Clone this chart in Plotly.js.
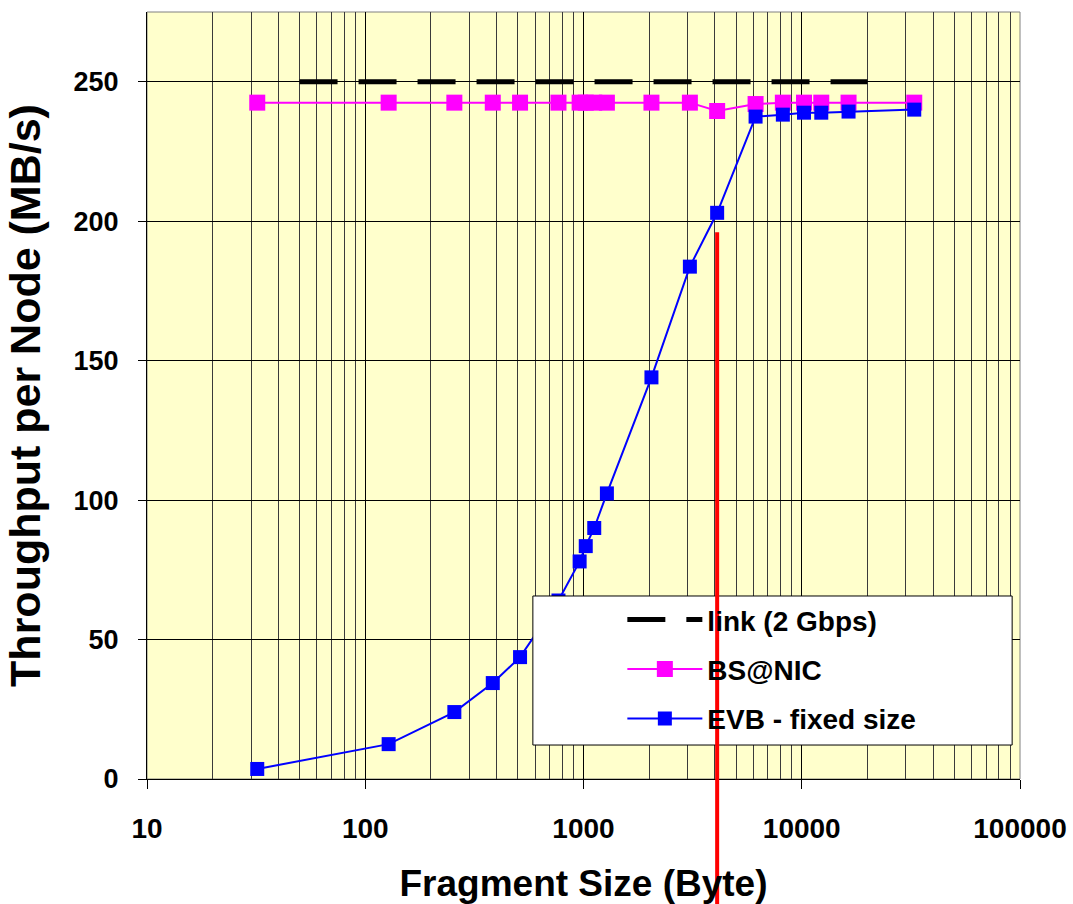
<!DOCTYPE html>
<html>
<head>
<meta charset="utf-8">
<script src="https://cdn.plot.ly/plotly-3.0.1.min.js"></script>
<style>html,body{margin:0;padding:0;background:#fff;}#chart{width:1073px;height:904px;}</style>
</head>
<body>
<div id="chart"></div>
<script>
// ---- data ----
const seriesNames = ["link (2 Gbps)", "BS@NIC", "EVB - fixed size"];
const linkX = [50, 20000];
const linkY = [250, 250];
const bsX = [32, 128, 256, 384, 512, 768, 960, 1024, 1120, 1280, 2048, 3072, 4096, 6144, 8192, 10240, 12288, 16384, 32768];
const bsY = [242.5, 242.5, 242.5, 242.5, 242.5, 242.5, 242.5, 242.5, 242.5, 242.5, 242.5, 242.5, 239.5, 242, 242.5, 242.5, 242.5, 242.5, 242.5];
const evbX = [32, 128, 256, 384, 512, 768, 960, 1024, 1120, 1280, 2048, 3072, 4096, 6144, 8192, 10240, 12288, 16384, 32768];
const evbY = [3.6, 12.5, 24, 34.4, 43.7, 64, 78, 83.5, 90, 102.4, 144, 183.7, 203, 237.5, 238.2, 238.9, 238.9, 239.3, 240];
const markerX = 4096;       // red vertical marker
const markerTop = 196;      // value where the red line starts
const xTickVals = [10, 100, 1000, 10000, 100000];
const xTickText = ["10", "100", "1000", "10000", "100000"];
const yTickVals = [0, 50, 100, 150, 200, 250];
const yRange = [0, 275];

const FONT = "Liberation Sans, Arial, sans-serif";

const traces = [
  {x: linkX, y: linkY, name: seriesNames[0], mode: "lines", legendgroup: "a",
   line: {color: "#000000", width: 5, dash: "38px,21px"}},
  {x: bsX, y: bsY, name: seriesNames[1], mode: "lines+markers", legendgroup: "b",
   line: {color: "#FF00FF", width: 2}, marker: {symbol: "square", size: 16, color: "#FF00FF"}},
  {x: evbX, y: evbY, name: seriesNames[2], mode: "lines+markers", legendgroup: "c",
   line: {color: "#0000FF", width: 2}, marker: {symbol: "square", size: 14, color: "#0000FF"}}
];

const layout = {
  width: 1073, height: 904,
  margin: {l: 147, r: 53, t: 12, b: 125},
  paper_bgcolor: "#ffffff",
  plot_bgcolor: "#FFFFCC",
  font: {family: FONT, color: "#000"},
  showlegend: true,
  legend: {
    x: 0.5445, y: 0.240, xanchor: "left", yanchor: "top",
    bgcolor: "rgba(0,0,0,0)", borderwidth: 0,
    traceorder: "grouped", tracegroupgap: 10, itemwidth: 75,
    font: {family: FONT, size: 28, weight: "bold", color: "#000"}
  },
  xaxis: {
    type: "log", range: [1, 5],
    tickvals: xTickVals, ticktext: xTickText,
    ticks: "outside", ticklen: 9, tickcolor: "#000", tickwidth: 1,
    ticklabelstandoff: 15,
    showgrid: true, gridcolor: "#000", gridwidth: 1,
    minor: {dtick: "D1", showgrid: true, gridcolor: "#3a3a3a", gridwidth: 1, ticks: ""},
    showline: true, linecolor: "#000", linewidth: 1,
    zeroline: false,
    tickfont: {family: FONT, size: 28, weight: "bold", color: "#000"},
    title: {text: "Fragment Size (Byte)", standoff: 29,
            font: {family: FONT, size: 37, weight: "bold", color: "#000"}}
  },
  yaxis: {
    range: yRange, tickvals: yTickVals,
    ticks: "outside", ticklen: 8, tickcolor: "#000", tickwidth: 1,
    ticklabelstandoff: 14,
    showgrid: true, gridcolor: "#000", gridwidth: 1,
    showline: true, linecolor: "#000", linewidth: 1,
    zeroline: false,
    tickfont: {family: FONT, size: 27, weight: "bold", color: "#000"},
    title: {text: "Throughput per Node (MB/s)", standoff: 19,
            font: {family: FONT, size: 43, weight: "bold", color: "#000"}}
  },
  shapes: [
    {type: "rect", xref: "paper", yref: "paper", x0: 0, x1: 1, y0: 0, y1: 1,
     line: {color: "#808080", width: 1}, fillcolor: "rgba(0,0,0,0)", layer: "below"},
    {type: "rect", xref: "paper", yref: "paper", x0: 0.442, x1: 0.991, y0: 0.0443, y1: 0.2386,
     line: {color: "#000", width: 1}, fillcolor: "#ffffff", layer: "above"},
    {type: "line", xref: "x", yref: "paper", x0: markerX, x1: markerX,
     y0: -0.2, y1: markerTop / yRange[1],
     line: {color: "#FF0000", width: 4}, layer: "above"}
  ]
};

Plotly.newPlot("chart", traces, layout, {displayModeBar: false, staticPlot: true});
</script>
</body>
</html>
